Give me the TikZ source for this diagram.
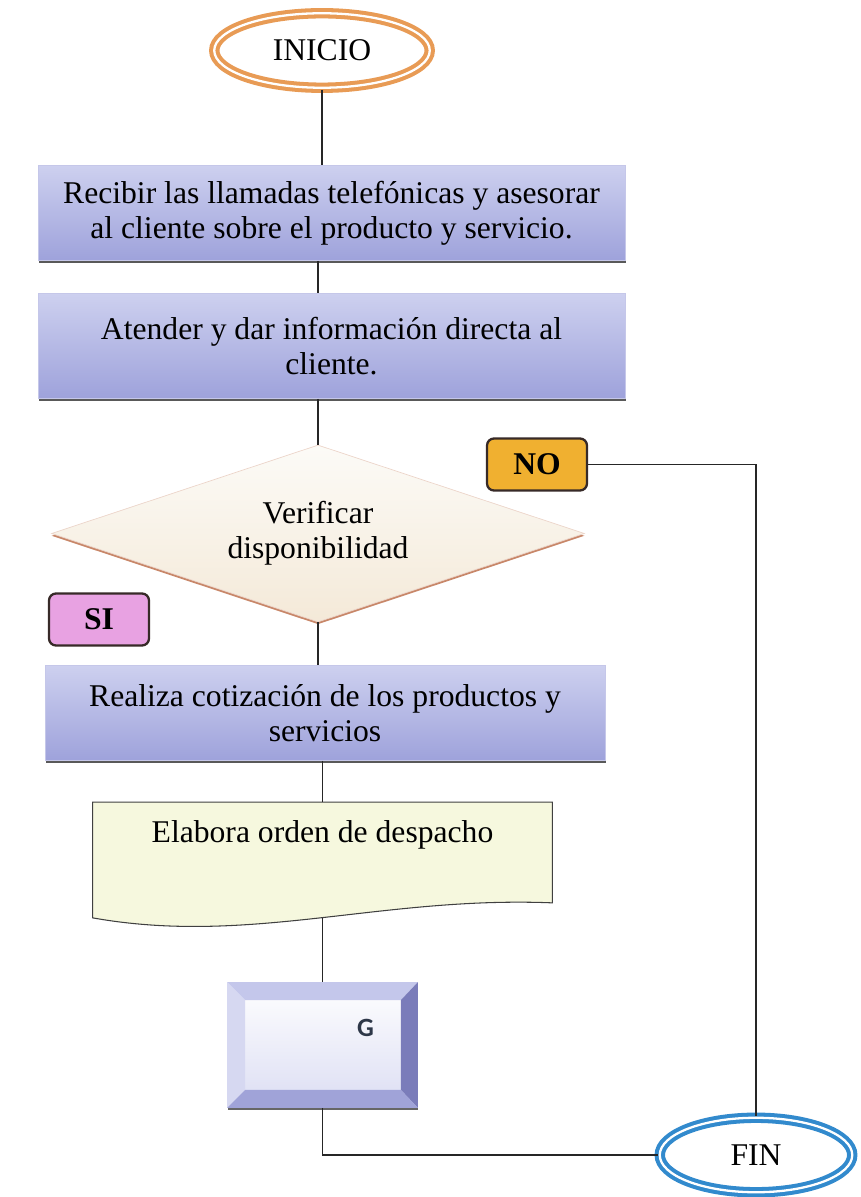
\documentclass[tikz,border=0pt]{standalone}
\usepackage{fontspec}
\setmainfont{Liberation Serif}
\newfontfamily\keyfont{Carlito}
\usetikzlibrary{shapes.geometric,shadows,backgrounds}

\definecolor{boxtop}{RGB}{205,208,239}
\definecolor{boxmid}{RGB}{247,247,253}
\definecolor{boxbot}{RGB}{158,162,219}
\definecolor{startline}{RGB}{232,155,85}
\definecolor{endline}{RGB}{50,138,205}
\definecolor{nofill}{RGB}{240,176,48}
\definecolor{sifill}{RGB}{232,162,226}
\definecolor{tagline}{RGB}{55,42,40}
\definecolor{diatop}{RGB}{252,251,247}
\definecolor{diabot}{RGB}{244,233,216}
\definecolor{diaedge}{RGB}{200,135,105}
\definecolor{docfill}{RGB}{246,248,222}
\definecolor{bevtop}{RGB}{196,199,235}
\definecolor{bevleft}{RGB}{214,216,241}
\definecolor{bevright}{RGB}{122,124,186}
\definecolor{bevbot}{RGB}{160,163,216}
\definecolor{keyink}{RGB}{45,55,72}

\begin{document}
\begin{tikzpicture}[node distance=2.5cm, auto,
  txt/.style={font=\fontsize{18}{20}\selectfont, align=center},
  terminal/.style={ellipse, txt, draw=#1, fill=white, double=white, line width=2.3pt, double distance=1.3pt, inner sep=0pt},
  procbox/.style={rectangle, txt, top color=boxtop, middle color=boxmid, bottom color=boxbot, draw=boxbot!60, line width=0.4pt,
    drop shadow={shadow xshift=0.6pt, shadow yshift=-1.2pt, fill=black!65, opacity=1}},
  tag/.style={rectangle, rounded corners=4pt, draw=tagline, line width=1.3pt, font=\fontsize{18}{20}\selectfont\bfseries,
    minimum width=2cm, minimum height=1.04cm},
  link/.style={draw=black!85, line width=0.8pt}]
  \useasboundingbox (0,0) rectangle (17.2,-23.94);

  \node[terminal=startline, minimum width=4.31cm, minimum height=1.49cm] (inicio) at (6.44,-1.01) {INICIO};
  \node[procbox, minimum width=11.74cm, minimum height=1.9cm, below of=inicio, xshift=0.19cm, yshift=-0.75cm] (recibir)
    {Recibir las llamadas telefónicas y asesorar\\al cliente sobre el producto y servicio.};
  \node[procbox, minimum width=11.74cm, minimum height=2.1cm, below of=recibir, yshift=-0.16cm] (atender)
    {Atender y dar información directa al\\cliente.};
  \node[diamond, aspect=3, txt, inner sep=0pt, minimum width=10.66cm, minimum height=3.54cm, top color=diatop, bottom color=diabot,
    draw=diaedge!35, drop shadow={shadow xshift=0pt, shadow yshift=-1.3pt, fill=diaedge, opacity=1},
    below of=atender, xshift=-0.27cm, yshift=-1.25cm] (verificar) {Verificar\\disponibilidad};
  \node[tag, fill=nofill, right of=verificar, xshift=1.88cm, yshift=1.38cm] (no) {NO};
  \node[tag, fill=sifill, left of=verificar, xshift=-1.88cm, yshift=-1.72cm] (si) {SI};
  \node[procbox, minimum width=11.2cm, minimum height=1.9cm, below of=verificar, xshift=0.14cm, yshift=-1.09cm] (cotizar)
    {Realiza cotización de los productos y\\servicios};
  \node[txt, minimum width=9.18cm, minimum height=2cm, text height=0.65cm, text depth=1.05cm, inner ysep=0.15cm,
    below of=cotizar, xshift=-0.05cm, yshift=-0.29cm] (orden) {Elabora orden de despacho};
  \node[rectangle, minimum width=3.8cm, minimum height=2.5cm, inner sep=0pt, top color=white, bottom color=bevtop!60,
    drop shadow={shadow xshift=0pt, shadow yshift=-1.2pt, fill=black!60, opacity=1},
    below of=orden, yshift=-1.35cm] (guardar) {};
  \node[terminal=endline, minimum width=3.85cm, minimum height=1.49cm, right of=guardar, xshift=6.17cm, yshift=-2.2cm] (fin) {FIN};

  % document symbol behind its text
  \begin{scope}[on background layer]
    \draw[fill=docfill, draw=black!75, line width=0.6pt] (orden.south west) -- (orden.north west) -- (orden.north east) -- (orden.south east)
      .. controls +(-3.44,0.14) and +(3.14,-0.56) .. ([yshift=-0.3cm]orden.south west) -- cycle;
  \end{scope}

  % bevel of the key
  \fill[bevtop] (guardar.north west) -- (guardar.north east) -- ([shift={(-0.34cm,-0.36cm)}]guardar.north east) -- ([shift={(0.36cm,-0.36cm)}]guardar.north west) -- cycle;
  \fill[bevleft] (guardar.north west) -- ([shift={(0.36cm,-0.36cm)}]guardar.north west) -- ([shift={(0.36cm,0.36cm)}]guardar.south west) -- (guardar.south west) -- cycle;
  \fill[bevright] (guardar.north east) -- ([shift={(-0.34cm,-0.36cm)}]guardar.north east) -- ([shift={(-0.34cm,0.36cm)}]guardar.south east) -- (guardar.south east) -- cycle;
  \fill[bevbot] (guardar.south west) -- ([shift={(0.36cm,0.36cm)}]guardar.south west) -- ([shift={(-0.34cm,0.36cm)}]guardar.south east) -- (guardar.south east) -- cycle;
  \node[font=\keyfont\fontsize{15}{16}\selectfont\bfseries, text=keyink, right of=guardar, xshift=-1.64cm, yshift=0.35cm] (tecla) {G};

  \draw[link] (inicio.south) -- (inicio.south |- recibir.north);
  \draw[link] (recibir.south -| verificar.north) -- (atender.north -| verificar.north);
  \draw[link] (atender.south -| verificar.north) -- (verificar.north);
  \draw[link] (verificar.south) -- (verificar.south |- cotizar.north);
  \draw[link] (cotizar.south -| orden.north) -- (orden.north);
  \draw[link] ([yshift=-0.3cm]orden.south) -- (guardar.north);
  \draw[link] (no.east) -- (no.east -| fin.north) -- (fin.north);
  \draw[link] (guardar.south) |- (fin.west);
\end{tikzpicture}
\end{document}
